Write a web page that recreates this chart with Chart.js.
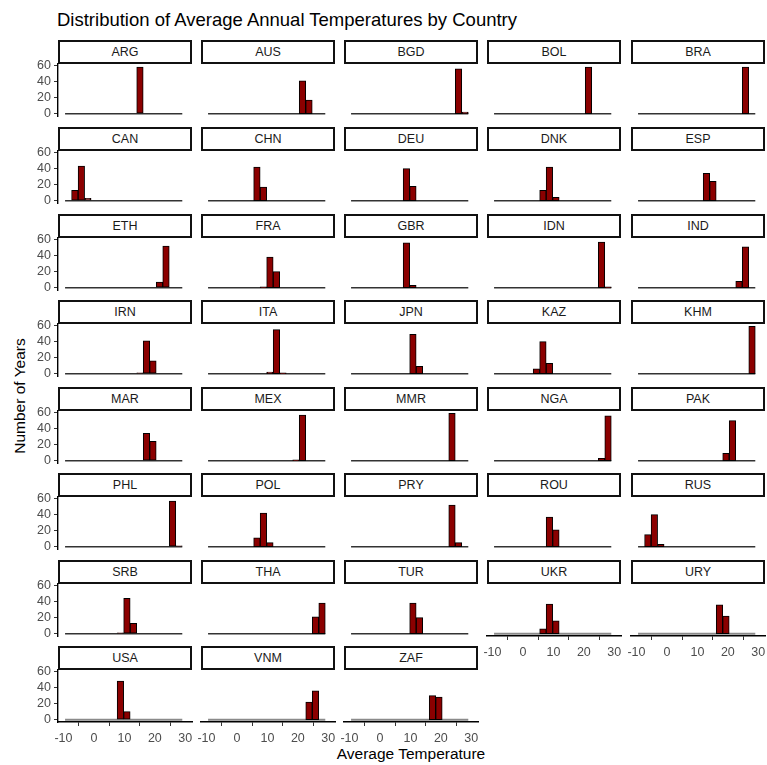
<!DOCTYPE html>
<html>
<head>
<meta charset="utf-8">
<script src="https://cdn.jsdelivr.net/npm/chart.js@4.4.1/dist/chart.umd.min.js"></script>
<style>
  body { margin: 0; background: #fff; font-family: "Liberation Sans", Arial, sans-serif; }
  #page { position: relative; width: 767px; height: 765px; overflow: hidden; background: #fff; }
  #page canvas { position: absolute; }
  .strip {
    position: absolute; box-sizing: border-box; border: 2px solid #111; background: #fff;
    color: #1a1a1a; font-size: 12.5px; text-align: center; line-height: 20px;
  }
  .title { position: absolute; left: 57px; top: 11px; font-size: 18.5px; line-height: 18.5px; color: #000; white-space: nowrap; }
  .xtitle { position: absolute; left: 411px; top: 746px; transform: translateX(-50%); font-size: 15.5px; line-height: 15.5px; color: #000; white-space: nowrap; }
  .ytitle { position: absolute; left: 20px; top: 396px; transform: translate(-50%, -50%) rotate(-90deg); font-size: 15.5px; line-height: 15.5px; color: #000; white-space: nowrap; }
</style>
</head>
<body>
<div id="page">
  <div class="title">Distribution of Average Annual Temperatures by Country</div>
  <div class="ytitle">Number of Years</div>
  <div class="xtitle">Average Temperature</div>
</div>
<script>
// facets, in the order they are laid out
var countries = ['ARG', 'AUS', 'BGD', 'BOL', 'BRA',
                 'CAN', 'CHN', 'DEU', 'DNK', 'ESP',
                 'ETH', 'FRA', 'GBR', 'IDN', 'IND',
                 'IRN', 'ITA', 'JPN', 'KAZ', 'KHM',
                 'MAR', 'MEX', 'MMR', 'NGA', 'PAK',
                 'PHL', 'POL', 'PRY', 'ROU', 'RUS',
                 'SRB', 'THA', 'TUR', 'UKR', 'URY',
                 'USA', 'VNM', 'ZAF'];

// histogram bin mid points (degrees C)
var binMids = [-8.41, -6.27, -4.13, -2.00, 0.14, 2.28, 4.42, 6.56, 8.69,
               10.83, 12.97, 15.11, 17.25, 19.38, 21.52, 23.66, 25.80, 27.94];

// first non-empty bin per country, then the counts from there on
var startBin = [11, 14, 16, 14, 16,
                1, 7, 8, 7, 10,
                14, 8, 8, 16, 15,
                11, 9, 9, 6, 17,
                12, 13, 15, 16, 13,
                16, 7, 15, 8, 1,
                8, 16, 9, 7, 12,
                8, 15, 12];

var binCounts = [[58], [41, 17], [56, 2], [58], [58],
                 [13, 43, 3], [42, 17], [40, 18], [13, 42, 4], [34, 24],
                 [7, 52], [1, 38, 20], [56, 3], [57, 1], [8, 51],
                 [1, 41, 16], [2, 55, 1], [49, 9], [6, 40, 13], [59],
                 [34, 24], [1, 57], [59], [3, 56], [9, 50],
                 [57, 1], [11, 42, 5], [52, 5], [37, 21], [15, 40, 3],
                 [1, 44, 13], [21, 38], [38, 20], [6, 37, 16], [36, 22],
                 [48, 10], [22, 36], [30, 28]];

var xTicks = [-10, 0, 10, 20, 30];
var yTicks = [0, 20, 40, 60];

// layout of the facet grid
var nCols = 5;
var panelLeft0 = 57.7, colPitch = 143.25, panelW = 134;
var panelTop0 = 64.4, rowPitch = 86.57, panelH = 52;
var stripH = 24;

Chart.defaults.font.family = '"Liberation Sans", Arial, sans-serif';
Chart.defaults.font.size = 12.3;
Chart.defaults.color = '#4d4d4d';

var page = document.getElementById('page');
var halfBin = (binMids[1] - binMids[0]) / 2;

countries.forEach(function(code, i) {
    var row = Math.floor(i / nCols);
    var col = i % nCols;
    var left = Math.round(panelLeft0 + col * colPitch);
    var top = Math.round(panelTop0 + row * rowPitch);
    var showY = col === 0;
    var showX = i + nCols >= countries.length;

    // room around the plot area, big enough that tick labels never push it in
    var mL = showY ? 45 : 14, mR = 14, mT = 14, mB = showX ? 30 : 14;

    var strip = document.createElement('div');
    strip.className = 'strip';
    strip.style.left = left + 'px';
    strip.style.top = (top - stripH) + 'px';
    strip.style.width = panelW + 'px';
    strip.style.height = stripH + 'px';
    strip.textContent = code;
    page.appendChild(strip);

    var canvas = document.createElement('canvas');
    canvas.width = panelW + mL + mR;
    canvas.height = panelH + mT + mB;
    canvas.style.left = (left - mL) + 'px';
    canvas.style.top = (top - mT) + 'px';
    page.appendChild(canvas);

    var bars = binMids.map(function(mid, k) {
        var j = k - startBin[i];
        var n = (j >= 0 && j < binCounts[i].length) ? binCounts[i][j] : 0;
        return { x: mid, y: n };
    });

    new Chart(canvas, {
        type: 'bar',
        data: {
            datasets: [
                {
                    type: 'bar',
                    data: bars,
                    backgroundColor: '#8b0000',
                    borderColor: '#000000',
                    borderWidth: 1,
                    borderSkipped: false,
                    barPercentage: 1,
                    categoryPercentage: 1,
                    order: 1
                },
                {
                    // the empty bins show up as a flat outline along zero
                    type: 'line',
                    data: [{ x: binMids[0] - halfBin, y: 0 },
                           { x: binMids[binMids.length - 1] + halfBin, y: 0 }],
                    borderColor: showX ? '#8a8a8a' : '#333333',
                    borderWidth: showX ? 2 : 1.5,
                    pointRadius: 0,
                    order: 2
                }
            ]
        },
        options: {
            responsive: false,
            animation: false,
            events: [],
            layout: {
                padding: { left: showY ? 0 : mL, right: mR, top: mT, bottom: showX ? 0 : mB }
            },
            plugins: {
                legend: { display: false },
                tooltip: { enabled: false }
            },
            scales: {
                x: {
                    type: 'linear',
                    min: -11.8,
                    max: 32.2,
                    offset: false,
                    display: showX,
                    afterBuildTicks: function(axis) {
                        axis.ticks = xTicks.map(function(v) { return { value: v }; });
                    },
                    afterFit: function(axis) { if (showX) axis.height = mB; },
                    grid: { drawOnChartArea: false, drawTicks: true, tickLength: 4, color: '#333333', lineWidth: 1 },
                    border: { display: true, color: '#000000', width: 1.4 },
                    ticks: {
                        padding: 5,
                        maxRotation: 0,
                        autoSkip: false,
                        color: '#4d4d4d',
                        font: { size: 12.5 },
                        callback: function(v) { return String(v); }
                    }
                },
                y: {
                    min: -2.95,
                    max: 61.95,
                    display: showY,
                    afterBuildTicks: function(axis) {
                        axis.ticks = yTicks.map(function(v) { return { value: v }; });
                    },
                    afterFit: function(axis) { if (showY) axis.width = mL; },
                    grid: { drawOnChartArea: false, drawTicks: true, tickLength: 4, color: '#333333', lineWidth: 1 },
                    border: { display: true, color: '#000000', width: 1.4 },
                    ticks: {
                        padding: 3,
                        autoSkip: false,
                        color: '#4d4d4d',
                        font: { size: 12.5 },
                        callback: function(v) { return String(v); }
                    }
                }
            }
        }
    });
});
</script>
</body>
</html>
